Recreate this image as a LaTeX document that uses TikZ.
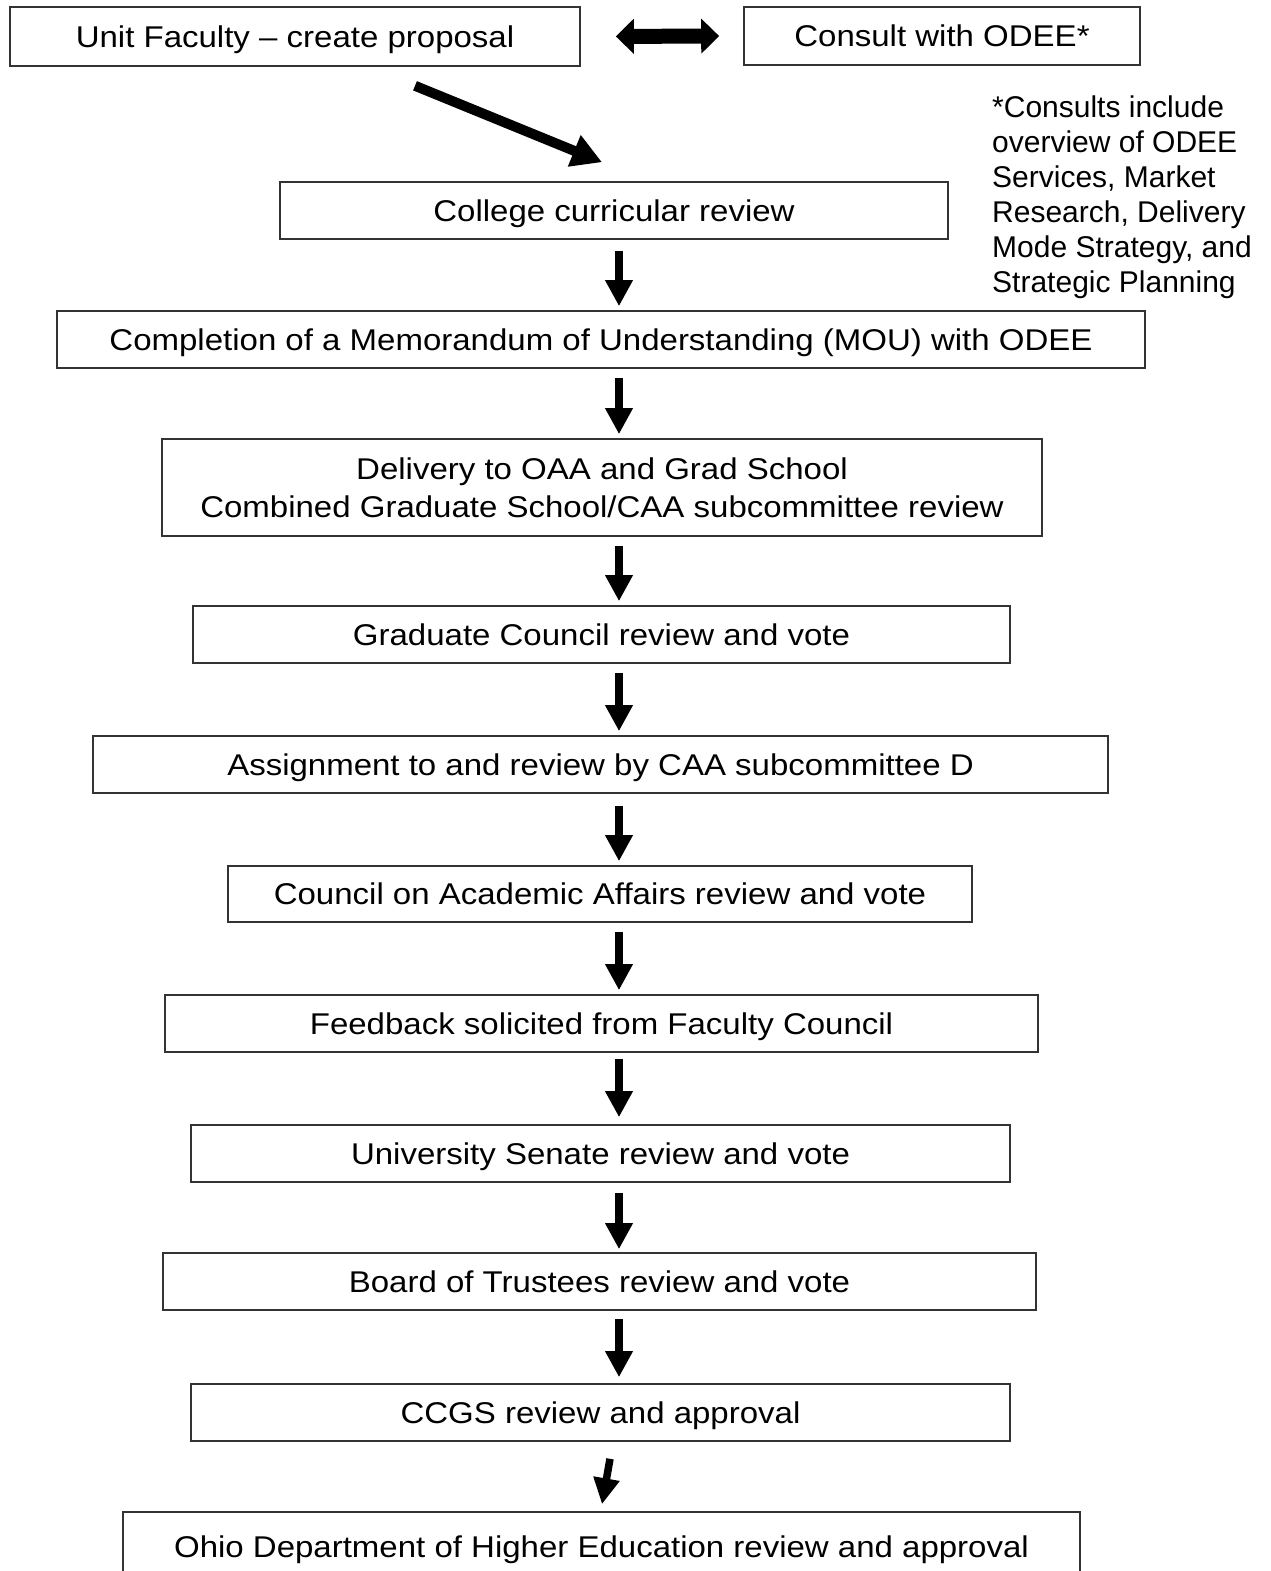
\documentclass[tikz,border=0pt]{standalone}
\usepackage{fontspec}
\setmainfont{Liberation Sans}[FakeStretch=1.1]
\newfontfamily\notefont{Liberation Sans}
\usetikzlibrary{arrows.meta,calc}
\begin{document}
\begin{tikzpicture}[x=1pt,y=-1pt,
  box/.style={draw=black!80, line width=1.6pt, inner sep=0pt, align=center,
    text depth=0pt, font=\fontsize{30}{38}\selectfont},
  note/.style={inner sep=0pt, align=left, anchor=north west,
    font=\notefont\fontsize{30}{35}\selectfont},
  varrow/.style={line width=8pt, -{Triangle[width=26pt,length=26pt]},
    shorten <=9pt, shorten >=4pt},
  darrow/.style={line width=15pt, {Triangle[width=34pt,length=18pt]}-{Triangle[width=34pt,length=18pt]},
    shorten <=35pt, shorten >=24pt},
  sarrow/.style={line width=10pt, -{Triangle[width=32pt,length=30pt]}},
  barrow/.style={line width=7.5pt, -{Triangle[width=25pt,length=26pt]}}]
\useasboundingbox (0,0) rectangle (1271,1571);
\fill[white] (0,0) rectangle (1271,1571);

\node[box, minimum width=570pt, minimum height=59pt] (unit) at (295,36.5) {Unit Faculty -- create proposal};
\node[box, minimum width=396pt, minimum height=58pt] (consult) at (942,36) {Consult with ODEE*};
\node[note] (notes) at (992,96) {*Consults include\\overview of ODEE\\Services, Market\\Research, Delivery\\Mode Strategy, and\\Strategic Planning};
\node[box, minimum width=668pt, minimum height=57pt] (college) at (614,210.5) {College curricular review};
\node[box, minimum width=1088pt, minimum height=57pt] (mou) at (601,339.5) {Completion of a Memorandum of Understanding (MOU) with ODEE};
\node[box, minimum width=880pt, minimum height=97pt] (deliv) at (602,487.5) {Delivery to OAA and Grad School\\Combined Graduate School/CAA subcommittee review};
\node[box, minimum width=817pt, minimum height=57pt] (grad) at (601.5,634.5) {Graduate Council review and vote};
\node[box, minimum width=1015pt, minimum height=57pt] (assign) at (600.5,764.5) {Assignment to and review by CAA subcommittee D};
\node[box, minimum width=744pt, minimum height=56pt] (caa) at (600,894) {Council on Academic Affairs review and vote};
\node[box, minimum width=873pt, minimum height=57pt] (feed) at (601.5,1023.5) {Feedback solicited from Faculty Council};
\node[box, minimum width=819pt, minimum height=57pt] (senate) at (600.5,1153.5) {University Senate review and vote};
\node[box, minimum width=873pt, minimum height=57pt] (board) at (599.5,1281.5) {Board of Trustees review and vote};
\node[box, minimum width=819pt, minimum height=57pt] (ccgs) at (600.5,1412.5) {CCGS review and approval};
\node[box, minimum width=957pt, minimum height=69pt] (ohio) at (601.5,1546.5) {Ohio Department of Higher Education review and approval};

\coordinate (ax) at (619,0);
\draw[darrow] (unit.east) -- (consult.west);
\draw[sarrow] ($(unit.south)+(120,19)$) -- ($(college.north)+(-12,-19)$);
\draw[varrow, shorten <=11pt] (college.south -| ax) -- (mou.north -| ax);
\draw[varrow] (mou.south -| ax) -- (deliv.north -| ax);
\draw[varrow] (deliv.south -| ax) -- (grad.north -| ax);
\draw[varrow] (grad.south -| ax) -- (assign.north -| ax);
\draw[varrow, shorten <=12pt] (assign.south -| ax) -- (caa.north -| ax);
\draw[varrow] (caa.south -| ax) -- (feed.north -| ax);
\draw[varrow, shorten <=6pt, shorten >=7pt] (feed.south -| ax) -- (senate.north -| ax);
\draw[varrow, shorten <=10pt, shorten >=3pt] (senate.south -| ax) -- (board.north -| ax);
\draw[varrow, shorten <=8pt, shorten >=6pt] (board.south -| ax) -- (ccgs.north -| ax);
\draw[barrow] ($(ccgs.south)+(9.5,17)$) -- ($(ohio.north)+(0.5,-7)$);
\end{tikzpicture}
\end{document}
